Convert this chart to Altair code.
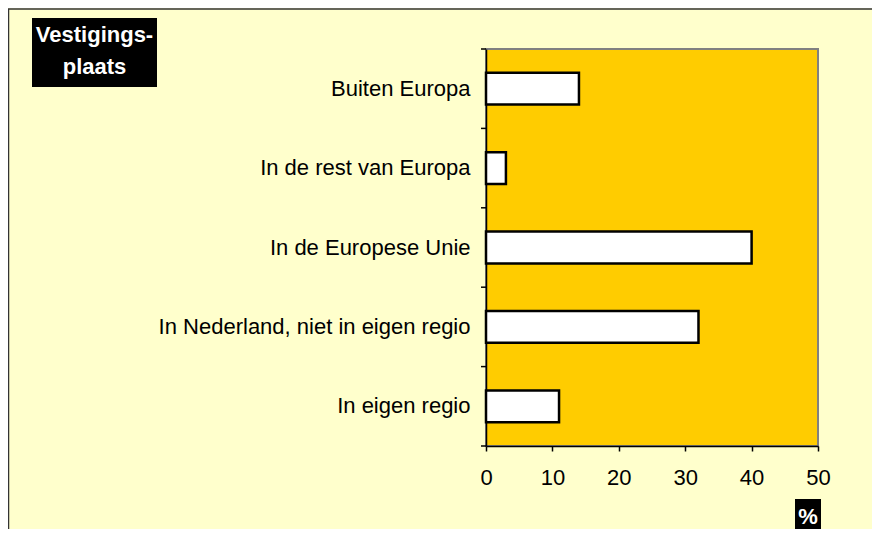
import altair as alt
import pandas as pd

categories = ["Buiten Europa", "In de rest van Europa", "In de Europese Unie",
              "In Nederland, niet in eigen regio", "In eigen regio"]
values = [14, 3, 40, 32, 11]
x_ticks = [0, 10, 20, 30, 40, 50]

df = pd.DataFrame({"cat": categories, "pct": values})
one = pd.DataFrame({"a": [0]})

FONT = "Liberation Sans"
FS = 22
W, H = 332, 397

base = alt.Chart(df)

bars = base.mark_bar(height={"band": 0.4}, fill="white", stroke="black", strokeWidth=2.5).encode(
    y=alt.Y("cat:N", sort=categories, title=None,
            scale=alt.Scale(paddingInner=0, paddingOuter=0),
            axis=alt.Axis(ticks=False, labelPadding=16, labelFontSize=FS, labelFont=FONT,
                          labelColor="black", domainColor="black", domainWidth=1.5,
                          labelLimit=500)),
    x=alt.X("pct:Q", title=None,
            scale=alt.Scale(domain=[0, 50], nice=False),
            axis=alt.Axis(values=x_ticks, grid=False, tickSize=5, tickColor="black",
                          tickWidth=1.5, labelPadding=16, labelFontSize=FS, labelFont=FONT,
                          labelFlush=False,
                          labelColor="black", domainColor="black", domainWidth=1.5)),
)

yticks = base.mark_rule(color="black", strokeWidth=1.5).encode(
    y=alt.Y("cat:N", sort=categories, bandPosition=0),
    x=alt.value(-5), x2=alt.value(0),
)
ytick_end = alt.Chart(one).mark_rule(color="black", strokeWidth=1.5).encode(
    y=alt.value(H), x=alt.value(-5), x2=alt.value(0),
)

outer = alt.Chart(one).mark_rect(fill=None, stroke="#333333", strokeWidth=1.5).encode(
    x=alt.value(-477.5), x2=alt.value(420), y=alt.value(-40), y2=alt.value(520),
)

title_box = alt.Chart(one).mark_rect(color="black").encode(
    x=alt.value(-454), x2=alt.value(-329), y=alt.value(-31), y2=alt.value(38),
)
title_text = alt.Chart(one).mark_text(
    text=["Vestigings-", "plaats"], color="white", font=FONT, fontSize=FS,
    fontWeight="bold", align="center", baseline="alphabetic", lineHeight=32,
).encode(x=alt.value(-391.5), y=alt.value(-7))

pct_box = alt.Chart(one).mark_rect(color="black").encode(
    x=alt.value(309), x2=alt.value(335), y=alt.value(450), y2=alt.value(520),
)
pct_text = alt.Chart(one).mark_text(
    text="%", color="white", font=FONT, fontSize=FS, fontWeight="bold",
    align="center", baseline="alphabetic",
).encode(x=alt.value(322), y=alt.value(475))

chart = alt.layer(outer, bars, yticks, ytick_end, title_box, title_text, pct_box, pct_text).properties(
    width=W, height=H,
    autosize=alt.AutoSizeParams(type="none"),
    padding={"left": 478, "top": 41, "right": 54, "bottom": 83},
    background="#FFFFCC",
).configure_view(fill="#FFCC00", stroke="#808080", strokeWidth=2)

chart.save("out.html", embed_options={"renderer": "svg", "actions": False})
